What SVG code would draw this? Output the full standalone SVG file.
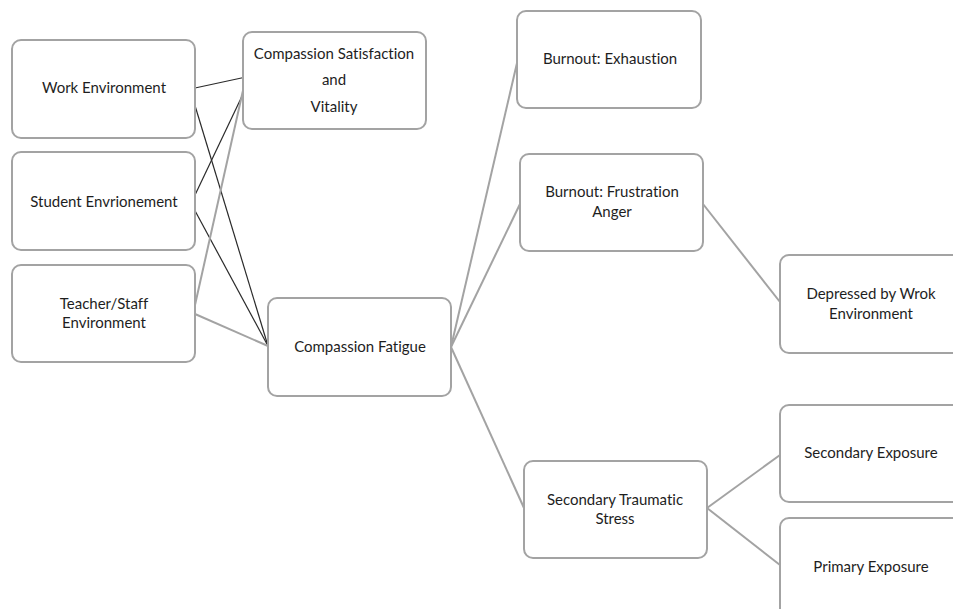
<svg xmlns="http://www.w3.org/2000/svg" width="953" height="609" viewBox="0 0 953 609">
<style>
.box{fill:#fff;stroke:#a3a3a3;stroke-width:2}
.t{font-family:Lato,"Open Sans","Liberation Sans",sans-serif;font-size:15px;fill:#1e1e1e;text-anchor:middle;font-variant-ligatures:none}
.dk{stroke:#2a2a2a;stroke-width:1.2;fill:none}
.gr{stroke:#a3a3a3;stroke-width:2;fill:none}
</style>
<rect width="953" height="609" fill="#fff"/>
<g id="connectors">
<line class="dk" x1="195" y1="88" x2="246" y2="77"/>
<line class="dk" x1="193" y1="99" x2="268" y2="346"/>
<line class="dk" x1="195" y1="195" x2="244" y2="92"/>
<line class="dk" x1="193" y1="207" x2="268" y2="346"/>
<line class="gr" x1="195" y1="305" x2="244" y2="86"/>
<line class="gr" x1="195" y1="314" x2="268" y2="346"/>
<line class="gr" x1="451" y1="347" x2="517" y2="63"/>
<line class="gr" x1="451" y1="347" x2="520" y2="204"/>
<line class="gr" x1="451" y1="347" x2="524" y2="508"/>
<line class="gr" x1="703" y1="204" x2="780" y2="302"/>
<line class="gr" x1="707" y1="508" x2="780" y2="455"/>
<line class="gr" x1="707" y1="508" x2="780" y2="565"/>
</g>
<g id="work-env"><rect class="box" x="12" y="40" width="183" height="98" rx="9"/><text class="t" x="104" y="93">Work Environment</text></g>
<g id="comp-sat"><rect class="box" x="243" y="32" width="183" height="97" rx="9"/><text class="t" x="334" y="59">Compassion Satisfaction</text><text class="t" x="334" y="85">and</text><text class="t" x="334" y="112">Vitality</text></g>
<g id="student-env"><rect class="box" x="12" y="152" width="183" height="98" rx="9"/><text class="t" x="104" y="207">Student Envrionement</text></g>
<g id="teacher-env"><rect class="box" x="12" y="265" width="183" height="97" rx="9"/><text class="t" x="104" y="309">Teacher/Staff</text><text class="t" x="104" y="328">Environment</text></g>
<g id="comp-fatigue"><rect class="box" x="268" y="298" width="183" height="98" rx="9"/><text class="t" x="360" y="352">Compassion Fatigue</text></g>
<g id="burnout-exh"><rect class="box" x="517" y="11" width="184" height="97" rx="9"/><text class="t" x="610" y="64">Burnout: Exhaustion</text></g>
<g id="burnout-frust"><rect class="box" x="520" y="154" width="183" height="97" rx="9"/><text class="t" x="612" y="197">Burnout: Frustration</text><text class="t" x="612" y="217">Anger</text></g>
<g id="depressed"><rect class="box" x="780" y="255" width="190" height="98" rx="9"/><text class="t" x="871" y="299">Depressed by Wrok</text><text class="t" x="871" y="319">Environment</text></g>
<g id="sec-traumatic"><rect class="box" x="524" y="461" width="183" height="97" rx="9"/><text class="t" x="615" y="505">Secondary Traumatic</text><text class="t" x="615" y="524">Stress</text></g>
<g id="sec-exposure"><rect class="box" x="780" y="405" width="190" height="97" rx="9"/><text class="t" x="871" y="458">Secondary Exposure</text></g>
<g id="prim-exposure"><rect class="box" x="780" y="518" width="190" height="110" rx="9"/><text class="t" x="871" y="572">Primary Exposure</text></g>
</svg>
